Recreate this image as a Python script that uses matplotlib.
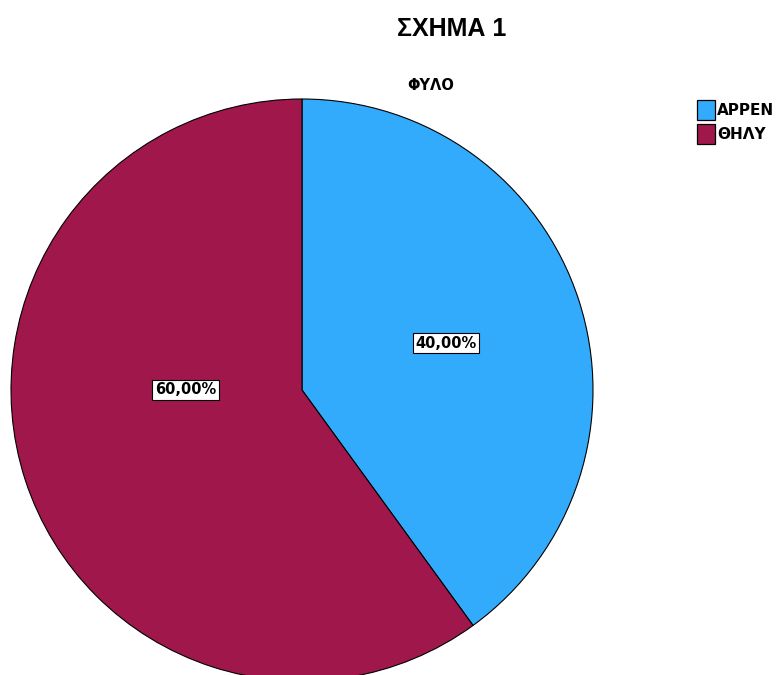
import matplotlib.pyplot as plt
from matplotlib.patches import Patch

# data
categories = ['ΑΡΡΕΝ', 'ΘΗΛΥ']
values = [40, 60]
colors = ['#33ABFD', '#A0184B']

fig = plt.figure(figsize=(7.81, 6.75), dpi=100)

# pie axes placed so the circle matches the reference (partly cut at bottom)
ax = fig.add_axes([11 / 781, -6 / 675, 582 / 781, 582 / 675])

wedges, texts, autotexts = ax.pie(
    values, colors=colors, startangle=90, counterclock=False,
    autopct=lambda p: f"{p:.2f}%".replace('.', ','), pctdistance=0.52,
    wedgeprops=dict(edgecolor='black', linewidth=0.8),
    textprops=dict(fontsize=10.5, fontweight='bold', family='DejaVu Sans'))
ax.set_xlim(-1, 1)
ax.set_ylim(-1, 1)
ax.set_aspect('equal')
for w in wedges:
    w.set_clip_on(False)

for t in autotexts:
    t.set_bbox(dict(boxstyle='square,pad=0.18', fc='white', ec='black', lw=0.8))
# SPSS puts the larger slice label on the horizontal line through the centre
autotexts[1].set_position((-0.40, 0.0))

fig.text(0.578, 1 - 29 / 675, 'ΣΧΗΜΑ 1', ha='center', va='center',
         fontsize=18, fontweight='bold', family='Liberation Sans')
fig.text(0.551, 1 - 86 / 675, 'ΦΥΛΟ', ha='center', va='center',
         fontsize=10.5, fontweight='bold', family='DejaVu Sans')

handles = [Patch(facecolor=c, edgecolor='black', linewidth=0.9) for c in colors]
fig.legend(handles, categories, loc='upper left', bbox_to_anchor=(697 / 781, 1 - 100 / 675),
           frameon=False, handlelength=1.15, handleheight=1.6, handletextpad=0.15,
           labelspacing=0.3, borderpad=0, borderaxespad=0,
           prop=dict(size=11, weight='bold', family='DejaVu Sans'))

fig.savefig('out.png', dpi=100)
